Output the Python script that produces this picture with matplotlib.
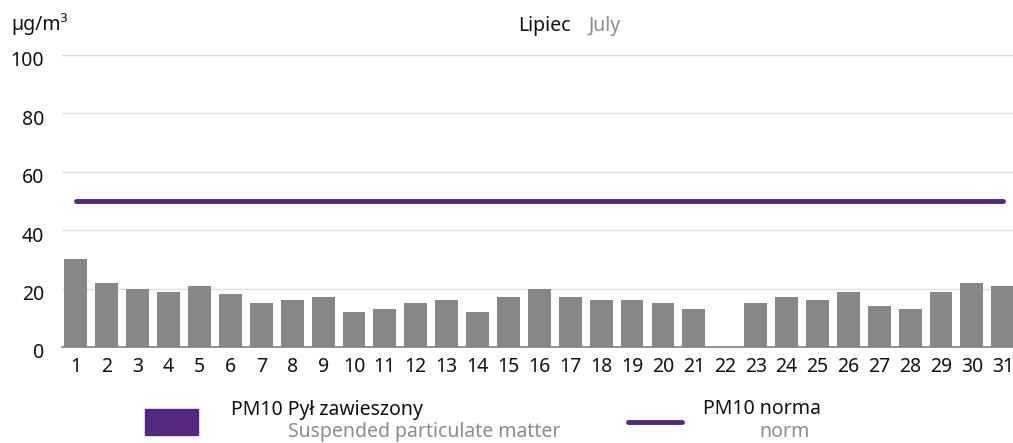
import matplotlib
matplotlib.use("Agg")
import matplotlib.pyplot as plt
from matplotlib.patches import Rectangle
from matplotlib.lines import Line2D
from matplotlib.transforms import ScaledTranslation

plt.rcParams['font.family'] = ['Noto Sans', 'DejaVu Sans']

days = list(range(1, 32))
pm10 = [30, 22, 20, 19, 21, 18, 15, 16, 17, 12, 13, 15, 16, 12, 17, 20,
        17, 16, 16, 15, 13, 0, 15, 17, 16, 19, 14, 13, 19, 22, 21]
norm_value = 50
y_ticks = [0, 20, 40, 60, 80, 100]

unit_label = "µg/m³"
title_pl = "Lipiec"
title_en = "July"
legend_bar_pl = "PM10 Pył zawieszony"
legend_bar_en = "Suspended particulate matter"
legend_line_pl = "PM10 norma"
legend_line_en = "norm"

BAR = "#878787"
PURPLE = "#55287f"
GREY_TEXT = "#8c8c8c"
GRID = "#dcdcdc"
FS = 14

W, H = 1013, 443
fig = plt.figure(figsize=(W / 100, H / 100), dpi=100)
ax = fig.add_axes([62 / W, (H - 347) / H, (W - 62) / W, 292 / H])

ax.bar(days, pm10, width=0.74, color=BAR, zorder=2)
ax.plot([days[0], days[-1]], [norm_value, norm_value], color=PURPLE,
        linewidth=3.5, solid_capstyle='round', zorder=3)

ax.set_xlim(0.55, 31.33)
ax.set_ylim(0, 100)
ax.set_yticks(y_ticks)
ax.set_xticks(days)
ax.set_xticklabels([str(d) for d in days])
ax.grid(axis='y', color=GRID, linewidth=1, zorder=0)
ax.tick_params(axis='both', length=0, labelsize=FS, colors='#111111')
ax.tick_params(axis='y', pad=13)
ax.tick_params(axis='x', pad=7)
# y labels sit a little below their gridlines
shift = ScaledTranslation(0, -4 / 100, fig.dpi_scale_trans)
for lbl in ax.get_yticklabels():
    lbl.set_transform(lbl.get_transform() + shift)
for s in ['top', 'right', 'left']:
    ax.spines[s].set_visible(False)
ax.spines['bottom'].set_color('#808080')
ax.spines['bottom'].set_linewidth(1.2)
ax.spines['bottom'].set_zorder(4)

def put(x, y_base, s, color='#111111', ha='left'):
    fig.text(x / W, 1 - y_base / H, s, fontsize=FS, va='baseline', ha=ha, color=color)

put(11, 30, unit_label)
put(518, 31, title_pl)
put(589, 31, title_en, GREY_TEXT)

# legend drawn in figure coordinates
fig.patches.append(Rectangle((145 / W, 1 - 435 / H), 53 / W, 26 / H,
                             transform=fig.transFigure, color=PURPLE))
put(231, 414.5, legend_bar_pl)
put(288, 437, legend_bar_en, GREY_TEXT)
fig.lines.append(Line2D([628 / W, 682 / W], [1 - 421.5 / H, 1 - 421.5 / H],
                        transform=fig.transFigure, color=PURPLE, linewidth=3.5,
                        solid_capstyle='round'))
put(703, 414.5, legend_line_pl)
put(785, 437, legend_line_en, GREY_TEXT, ha='center')

fig.savefig("out.png", dpi=100)
